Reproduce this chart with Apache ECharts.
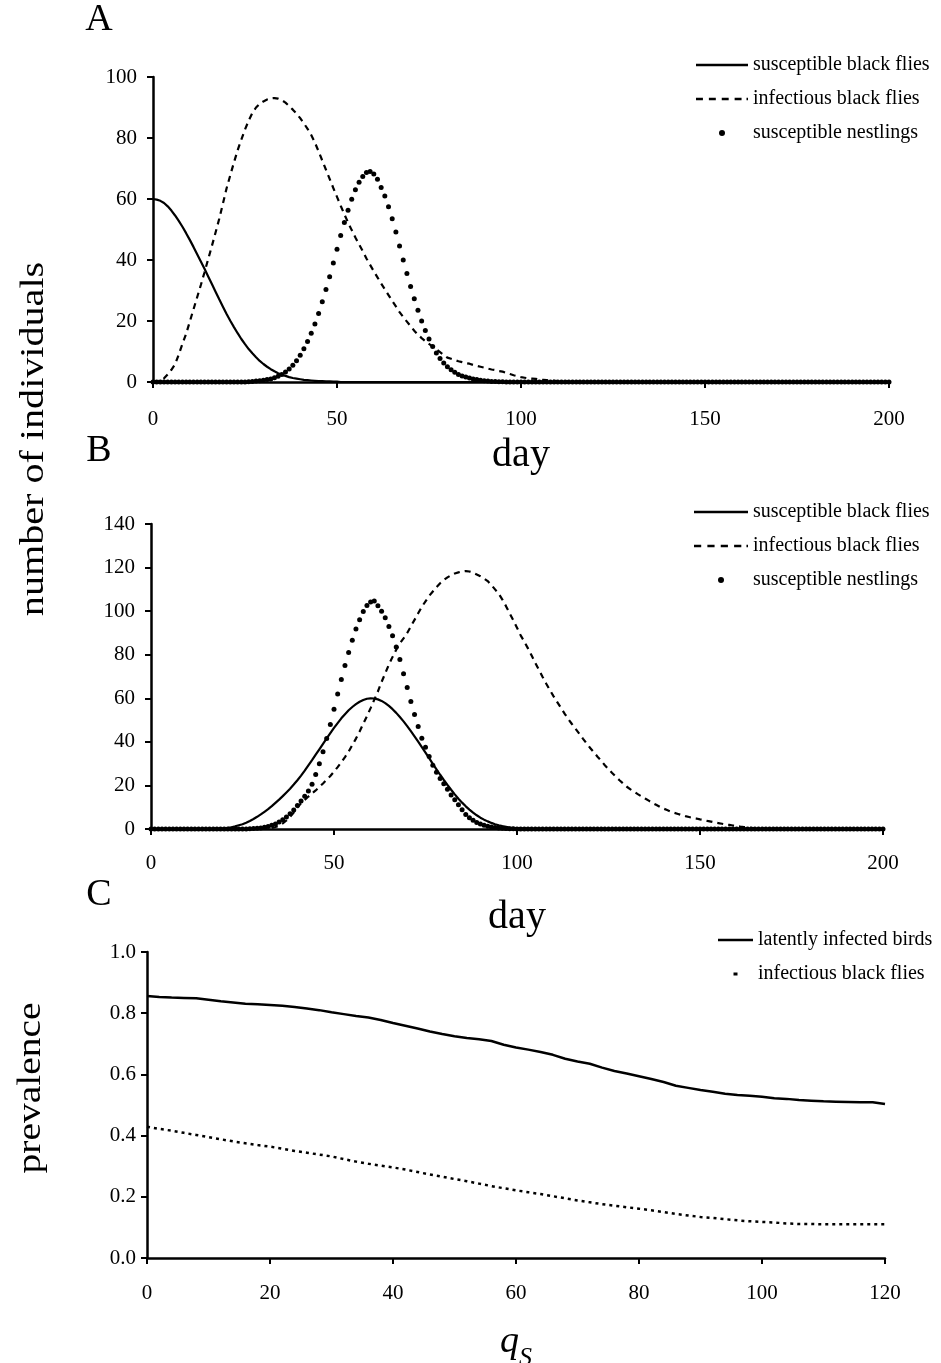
<!DOCTYPE html>
<html>
<head>
<meta charset="utf-8">
<script src="https://cdn.jsdelivr.net/npm/echarts@6/dist/echarts.min.js"></script>
<style>
body { margin: 0; background: #fff; }
#main { width: 941px; height: 1363px; }
</style>
</head>
<body>
<div id="main"></div>
<script>
// ---- panel A : one value per day, index = day (0..200)
var sBlackA = [
  60, 59.8, 59.4, 58.7, 57.6, 56.2, 54.6, 52.8, 50.9, 48.8,
  46.6, 44.3, 41.9, 39.5, 37.1, 34.6, 32.1, 29.6, 27.1, 24.7,
  22.3, 20.1, 18, 16, 14.1, 12.4, 10.8, 9.4, 8.1, 6.9,
  5.9, 5, 4.2, 3.5, 2.9, 2.4, 2, 1.6, 1.3, 1.1,
  0.9, 0.7, 0.6, 0.5, 0.4, 0.3, 0.3, 0.2, 0.2, 0.1,
  0.1, 0, 0, 0, 0, 0, 0, 0, 0, 0,
  0, 0, 0, 0, 0, 0, 0, 0, 0, 0,
  0, 0, 0, 0, 0, 0, 0, 0, 0, 0,
  0, 0, 0, 0, 0, 0, 0, 0, 0, 0,
  0, 0, 0, 0, 0, 0, 0, 0, 0, 0,
  0, 0, 0, 0, 0, 0, 0, 0, 0, 0,
  0, 0, 0, 0, 0, 0, 0, 0, 0, 0,
  0, 0, 0, 0, 0, 0, 0, 0, 0, 0,
  0, 0, 0, 0, 0, 0, 0, 0, 0, 0,
  0, 0, 0, 0, 0, 0, 0, 0, 0, 0,
  0, 0, 0, 0, 0, 0, 0, 0, 0, 0,
  0, 0, 0, 0, 0, 0, 0, 0, 0, 0,
  0, 0, 0, 0, 0, 0, 0, 0, 0, 0,
  0, 0, 0, 0, 0, 0, 0, 0, 0, 0,
  0, 0, 0, 0, 0, 0, 0, 0, 0, 0,
  0
];
var iBlackA = [
  0, 0.2, 0.5, 1.2, 2.5, 4, 5.8, 9, 12.5, 15.8,
  19.8, 23.8, 27.8, 31.8, 36, 40.3, 44.6, 49, 53.5, 58.5,
  63.5, 67.8, 72, 76, 79.5, 82.8, 85.7, 88.2, 90, 91.2,
  92, 92.6, 93, 93.1, 92.9, 92.4, 91.6, 90.5, 89.3, 88,
  86.5, 84.8, 83, 81, 78.5, 75.6, 72.6, 69.6, 66.6, 63.6,
  60.7, 57.8, 55, 52.3, 49.8, 47.4, 45.1, 42.9, 40.5, 38.4,
  36.3, 34.3, 32.3, 30.4, 28.5, 26.6, 24.8, 22.9, 21.3, 19.8,
  18.3, 16.8, 15.5, 14.4, 13.4, 12.5, 11.6, 10.7, 9.8, 8.9,
  8, 7.6, 7.2, 6.8, 6.5, 6.2, 6, 5.6, 5.3, 5,
  4.7, 4.4, 4.1, 3.9, 3.6, 3.4, 3, 2.6, 2.2, 1.9,
  1.6, 1.4, 1.2, 1.1, 1, 0.8, 0.7, 0.6, 0.5, 0.4,
  0.3, 0.3, 0.2, 0.2, 0.1, 0.1, 0, 0, 0, 0,
  0, 0, 0, 0, 0, 0, 0, 0, 0, 0,
  0, 0, 0, 0, 0, 0, 0, 0, 0, 0,
  0, 0, 0, 0, 0, 0, 0, 0, 0, 0,
  0, 0, 0, 0, 0, 0, 0, 0, 0, 0,
  0, 0, 0, 0, 0, 0, 0, 0, 0, 0,
  0, 0, 0, 0, 0, 0, 0, 0, 0, 0,
  0, 0, 0, 0, 0, 0, 0, 0, 0, 0,
  0, 0, 0, 0, 0, 0, 0, 0, 0, 0,
  0
];
var nestA = [
  0, 0, 0, 0, 0, 0, 0, 0, 0, 0,
  0, 0, 0, 0, 0, 0, 0, 0, 0, 0,
  0, 0, 0, 0, 0, 0, 0.1, 0.2, 0.3, 0.4,
  0.6, 0.8, 1, 1.4, 1.9, 2.5, 3.3, 4.3, 5.5, 7,
  8.8, 10.9, 13.3, 16, 19, 22.5, 26.3, 30.3, 34.5, 39,
  43.5, 48, 52.3, 56.3, 59.9, 63, 65.5, 67.4, 68.7, 69,
  68.2, 66.5, 63.8, 61, 57.5, 53.5, 49.2, 44.6, 40, 35.6,
  31.3, 27.3, 23.5, 20, 16.9, 14.1, 11.6, 9.5, 7.7, 6.2,
  5, 4, 3.2, 2.5, 2, 1.6, 1.3, 1, 0.8, 0.6,
  0.4, 0.3, 0.2, 0.2, 0.1, 0.1, 0, 0, 0, 0,
  0, 0, 0, 0, 0, 0, 0, 0, 0, 0,
  0, 0, 0, 0, 0, 0, 0, 0, 0, 0,
  0, 0, 0, 0, 0, 0, 0, 0, 0, 0,
  0, 0, 0, 0, 0, 0, 0, 0, 0, 0,
  0, 0, 0, 0, 0, 0, 0, 0, 0, 0,
  0, 0, 0, 0, 0, 0, 0, 0, 0, 0,
  0, 0, 0, 0, 0, 0, 0, 0, 0, 0,
  0, 0, 0, 0, 0, 0, 0, 0, 0, 0,
  0, 0, 0, 0, 0, 0, 0, 0, 0, 0,
  0, 0, 0, 0, 0, 0, 0, 0, 0, 0,
  0
];

// ---- panel B
var sBlackB = [
  0, 0, 0, 0, 0, 0, 0, 0, 0, 0,
  0, 0, 0, 0, 0, 0, 0, 0.1, 0.1, 0.2,
  0.3, 0.5, 0.8, 1.2, 1.7, 2.2, 2.9, 3.7, 4.6, 5.6,
  6.7, 7.9, 9.1, 10.5, 12, 13.5, 15.1, 16.8, 18.5, 20.4,
  22.4, 24.5, 26.8, 29.2, 31.6, 34.1, 36.6, 39.1, 41.6, 44,
  46.4, 48.6, 50.8, 52.7, 54.5, 56, 57.3, 58.4, 59.2, 59.8,
  60, 59.9, 59.5, 58.8, 57.8, 56.5, 55, 53.3, 51.4, 49.4,
  47.2, 44.9, 42.5, 40.1, 37.6, 35.1, 32.5, 29.9, 27.4, 24.9,
  22.5, 20.2, 18, 15.9, 13.9, 12.1, 10.4, 8.9, 7.5, 6.3,
  5.2, 4.3, 3.5, 2.8, 2.2, 1.7, 1.3, 1, 0.7, 0.5,
  0.4, 0.3, 0.2, 0.1, 0.1, 0, 0, 0, 0, 0,
  0, 0, 0, 0, 0, 0, 0, 0, 0, 0,
  0, 0, 0, 0, 0, 0, 0, 0, 0, 0,
  0, 0, 0, 0, 0, 0, 0, 0, 0, 0,
  0, 0, 0, 0, 0, 0, 0, 0, 0, 0,
  0, 0, 0, 0, 0, 0, 0, 0, 0, 0,
  0, 0, 0, 0, 0, 0, 0, 0, 0, 0,
  0, 0, 0, 0, 0, 0, 0, 0, 0, 0,
  0, 0, 0, 0, 0, 0, 0, 0, 0, 0,
  0, 0, 0, 0, 0, 0, 0, 0, 0, 0,
  0
];
var iBlackB = [
  0, 0, 0, 0, 0, 0, 0, 0, 0, 0,
  0, 0, 0, 0, 0, 0, 0, 0, 0, 0,
  0, 0, 0, 0, 0, 0, 0, 0, 0, 0,
  0.1, 0.2, 0.3, 0.5, 0.9, 1.6, 2.6, 3.9, 5.6, 7.6,
  9.9, 11.8, 13.4, 14.9, 16.3, 17.7, 19.3, 20.9, 22.6, 24.3,
  26.3, 28.4, 30.6, 33, 35.5, 38.5, 41.5, 44.8, 48.3, 51.8,
  55.5, 59.3, 63.2, 67.5, 71.5, 75.5, 79, 82.3, 85.2, 87.5,
  90, 93, 96, 99, 102, 104.5, 107, 109, 111, 112.8,
  114.3, 115.5, 116.5, 117.3, 117.8, 118.2, 118.4, 118.2, 117.6, 116.8,
  116, 115, 113.8, 112, 110, 108, 105.3, 102.3, 99, 95.8,
  92.4, 88.9, 86, 82.9, 79.6, 76.2, 73, 69.8, 66.7, 63.7,
  60.9, 58.2, 55.6, 53, 50.5, 48.2, 46, 43.8, 41.5, 39.3,
  37.2, 35.2, 33.2, 31.3, 29.3, 27.5, 25.7, 24, 22.4, 20.9,
  19.4, 18.2, 17.1, 16, 15, 14, 13, 12, 11.1, 10.2,
  9.4, 8.7, 8, 7.4, 6.9, 6.4, 5.9, 5.5, 5.1, 4.8,
  4.4, 4.1, 3.7, 3.4, 3, 2.7, 2.4, 2.1, 1.9, 1.6,
  1.4, 1.1, 0.9, 0.7, 0.5, 0.4, 0.3, 0.2, 0.1, 0.1,
  0, 0, 0, 0, 0, 0, 0, 0, 0, 0,
  0, 0, 0, 0, 0, 0, 0, 0, 0, 0,
  0, 0, 0, 0, 0, 0, 0, 0, 0, 0,
  0
];
var nestB = [
  0, 0, 0, 0, 0, 0, 0, 0, 0, 0,
  0, 0, 0, 0, 0, 0, 0, 0, 0, 0,
  0, 0, 0, 0, 0, 0, 0, 0.1, 0.2, 0.3,
  0.5, 0.8, 1.2, 1.7, 2.3, 3.2, 4.3, 5.5, 7, 8.7,
  10.8, 12.8, 15, 17.4, 20.5, 25, 30, 35.5, 41.5, 48,
  55, 62, 68.6, 75, 81, 86.6, 91.8, 96, 99.8, 102.6,
  104.2, 104.6, 102.5, 100, 97, 93, 88.7, 83.5, 77.8, 71.3,
  65, 58.5, 52.6, 47, 41.6, 37.5, 33.3, 29.3, 26, 23.2,
  20.8, 18.3, 15.6, 13.4, 11.1, 8.8, 6.7, 5.2, 4, 3,
  2.3, 1.7, 1.3, 0.9, 0.7, 0.5, 0.3, 0.2, 0.1, 0.1,
  0, 0, 0, 0, 0, 0, 0, 0, 0, 0,
  0, 0, 0, 0, 0, 0, 0, 0, 0, 0,
  0, 0, 0, 0, 0, 0, 0, 0, 0, 0,
  0, 0, 0, 0, 0, 0, 0, 0, 0, 0,
  0, 0, 0, 0, 0, 0, 0, 0, 0, 0,
  0, 0, 0, 0, 0, 0, 0, 0, 0, 0,
  0, 0, 0, 0, 0, 0, 0, 0, 0, 0,
  0, 0, 0, 0, 0, 0, 0, 0, 0, 0,
  0, 0, 0, 0, 0, 0, 0, 0, 0, 0,
  0, 0, 0, 0, 0, 0, 0, 0, 0, 0,
  0
];

// ---- panel C : prevalence against q_S
var qS = [
  0, 2, 4, 6, 8, 10, 12, 14, 16, 18,
  20, 22, 24, 26, 28, 30, 32, 34, 36, 38,
  40, 42, 44, 46, 48, 50, 52, 54, 56, 58,
  60, 62, 64, 66, 68, 70, 72, 74, 76, 78,
  80, 82, 84, 86, 88, 90, 92, 94, 96, 98,
  100, 102, 104, 106, 108, 110, 112, 114, 116, 118,
  120
];
var latentC = [
  0.856, 0.853, 0.851, 0.850, 0.849, 0.844, 0.839, 0.835, 0.831, 0.829,
  0.827, 0.824, 0.820, 0.815, 0.810, 0.803, 0.797, 0.791, 0.786, 0.778,
  0.768, 0.759, 0.750, 0.740, 0.732, 0.725, 0.719, 0.715, 0.709, 0.697,
  0.688, 0.681, 0.673, 0.664, 0.651, 0.642, 0.635, 0.622, 0.611, 0.603,
  0.594, 0.585, 0.575, 0.563, 0.556, 0.549, 0.543, 0.537, 0.533, 0.530,
  0.527, 0.522, 0.520, 0.516, 0.514, 0.512, 0.511, 0.510, 0.509, 0.509,
  0.503
];
var infC = [
  0.429, 0.422, 0.416, 0.409, 0.402, 0.395, 0.388, 0.381, 0.375, 0.369,
  0.364, 0.357, 0.350, 0.344, 0.338, 0.332, 0.323, 0.315, 0.308, 0.302,
  0.296, 0.289, 0.281, 0.273, 0.266, 0.258, 0.251, 0.243, 0.235, 0.228,
  0.221, 0.215, 0.209, 0.202, 0.195, 0.188, 0.182, 0.176, 0.171, 0.166,
  0.161, 0.156, 0.150, 0.144, 0.139, 0.134, 0.131, 0.127, 0.123, 0.120,
  0.118, 0.116, 0.113, 0.111, 0.111, 0.110, 0.110, 0.110, 0.110, 0.110,
  0.110
];

var dayTicks = { min: 0, max: 200, interval: 50 };
var legendAB = ['susceptible black flies', 'infectious black flies', 'susceptible nestlings'];
var legendC = ['latently infected birds', 'infectious black flies'];

var FONT = 'Liberation Serif';

// legend keys drawn like the original (plain line / dashes / dot)
var ICON_SOLID = 'path://M0,0h52v2.5h-52z';
var ICON_DASH = 'path://M0,0h7v2.5h-7zM13,0h7v2.5h-7zM26,0h7v2.5h-7zM39,0h7v2.5h-7zM51,0h1.5v2.5h-1.5z';
var ICON_SOLID_C = 'path://M0,0h35v2.5h-35z';
var ICON_DOT_C = 'path://M0,0h4v3h-4z';

function byDay(arr) {            // index is the day
    return arr.map(function (v, i) { return [i, v]; });
}
function byQ(arr) {
    return arr.map(function (v, i) { return [qS[i], v]; });
}

function axisStyle(extra) {
    var a = {
        type: 'value',
        axisLine: { show: true, onZero: false, lineStyle: { color: '#000', width: 2.5 } },
        axisTick: { show: true, length: 6, lineStyle: { color: '#000', width: 2 } },
        axisLabel: { color: '#000', fontSize: 21, fontFamily: FONT },
        splitLine: { show: false }
    };
    for (var k in extra) a[k] = extra[k];
    return a;
}

var legendText = { fontFamily: FONT, fontSize: 20, color: '#000', lineHeight: 22 };
var legendDataAB = [
    { name: legendAB[0], icon: ICON_SOLID },
    { name: legendAB[1], icon: ICON_DASH },
    { name: legendAB[2], icon: 'circle' }
];

option = {
    backgroundColor: '#fff',
    animation: false,
    grid: [   // fixed boxes, axis names may sit outside
        { left: 153, top: 77, width: 736, height: 305, outerBoundsMode: 'none' },   // A
        { left: 151, top: 524, width: 732, height: 305, outerBoundsMode: 'none' },  // B
        { left: 147, top: 952, width: 738, height: 306, outerBoundsMode: 'none' }   // C
    ],
    xAxis: [
        axisStyle({ gridIndex: 0, min: dayTicks.min, max: dayTicks.max, interval: dayTicks.interval,
            name: 'day', nameLocation: 'middle', nameGap: 53,
            nameTextStyle: { fontSize: 40, fontFamily: FONT, color: '#000' } }),
        axisStyle({ gridIndex: 1, min: dayTicks.min, max: dayTicks.max, interval: dayTicks.interval,
            name: 'day', nameLocation: 'middle', nameGap: 68,
            nameTextStyle: { fontSize: 40, fontFamily: FONT, color: '#000' } }),
        axisStyle({ gridIndex: 2, min: 0, max: 120, interval: 20,
            name: '{q|q}{s|S}', nameLocation: 'middle', nameGap: 65,
            nameTextStyle: {
                fontFamily: FONT, color: '#000',
                rich: {
                    q: { fontSize: 38, fontStyle: 'italic', fontFamily: FONT, color: '#000', padding: [0, 0, 10, 0], verticalAlign: 'bottom' },
                    s: { fontSize: 26, fontStyle: 'italic', fontFamily: FONT, color: '#000', verticalAlign: 'bottom' }
                }
            } })
    ],
    yAxis: [
        axisStyle({ gridIndex: 0, min: 0, max: 100, interval: 20 }),
        axisStyle({ gridIndex: 1, min: 0, max: 140, interval: 20 }),
        axisStyle({ gridIndex: 2, min: 0, max: 1, interval: 0.2 })
    ],
    legend: [
        { data: legendDataAB, orient: 'vertical', left: 696, top: 54, padding: 0,
          itemWidth: 52, itemHeight: 6, itemGap: 12, selectedMode: false, textStyle: legendText },
        { data: legendDataAB, orient: 'vertical', left: 694, top: 501, padding: 0,
          itemWidth: 54, itemHeight: 6, itemGap: 12, selectedMode: false, textStyle: legendText },
        { data: [ { name: legendC[0], icon: ICON_SOLID_C }, { name: legendC[1], icon: ICON_DOT_C } ],
          orient: 'vertical', left: 718, top: 929, padding: 0,
          itemWidth: 35, itemHeight: 3, itemGap: 12, selectedMode: false, textStyle: legendText }
    ],
    graphic: [
        { type: 'text', x: 99, y: 20, style: { text: 'A', font: '38px "Liberation Serif"', fill: '#000', align: 'center', verticalAlign: 'middle' } },
        { type: 'text', x: 99, y: 451, style: { text: 'B', font: '38px "Liberation Serif"', fill: '#000', align: 'center', verticalAlign: 'middle' } },
        { type: 'text', x: 99, y: 895, style: { text: 'C', font: '38px "Liberation Serif"', fill: '#000', align: 'center', verticalAlign: 'middle' } },
        // shared y title of A and B, drawn a bit tall like the original
        { type: 'text', x: 34, y: 439, rotation: Math.PI / 2, scaleX: 1.18,
          style: { text: 'number of individuals', font: '34px "Liberation Serif"', fill: '#000', align: 'center', verticalAlign: 'middle' } },
        { type: 'text', x: 31, y: 1088, rotation: Math.PI / 2, scaleX: 1.16,
          style: { text: 'prevalence', font: '34px "Liberation Serif"', fill: '#000', align: 'center', verticalAlign: 'middle' } }
    ],
    series: [
        // A
        { name: legendAB[0], type: 'line', xAxisIndex: 0, yAxisIndex: 0, data: byDay(sBlackA),
          symbol: 'none', color: '#000', lineStyle: { color: '#000', width: 2.2 } },
        { name: legendAB[1], type: 'line', xAxisIndex: 0, yAxisIndex: 0, data: byDay(iBlackA),
          symbol: 'none', color: '#000', lineStyle: { color: '#000', width: 2.2, type: [6, 5] } },
        { name: legendAB[2], type: 'scatter', xAxisIndex: 0, yAxisIndex: 0, data: byDay(nestA),
          symbol: 'circle', symbolSize: 5, itemStyle: { color: '#000', opacity: 1 } },
        // B
        { name: legendAB[0], type: 'line', xAxisIndex: 1, yAxisIndex: 1, data: byDay(sBlackB),
          symbol: 'none', color: '#000', lineStyle: { color: '#000', width: 2.2 } },
        { name: legendAB[1], type: 'line', xAxisIndex: 1, yAxisIndex: 1, data: byDay(iBlackB),
          symbol: 'none', color: '#000', lineStyle: { color: '#000', width: 2.2, type: [6, 5] } },
        { name: legendAB[2], type: 'scatter', xAxisIndex: 1, yAxisIndex: 1, data: byDay(nestB),
          symbol: 'circle', symbolSize: 5, itemStyle: { color: '#000', opacity: 1 } },
        // C
        { name: legendC[0], type: 'line', xAxisIndex: 2, yAxisIndex: 2, data: byQ(latentC),
          symbol: 'none', color: '#000', lineStyle: { color: '#000', width: 2.5 } },
        { name: legendC[1], type: 'line', xAxisIndex: 2, yAxisIndex: 2, data: byQ(infC),
          symbol: 'none', color: '#000', lineStyle: { color: '#000', width: 2.5, type: [3, 4] } }
    ]
};

// y labels of C keep one decimal
option.yAxis[2].axisLabel = { color: '#000', fontSize: 21, fontFamily: FONT, margin: 11,
    formatter: function (v) { return v.toFixed(1); } };
option.yAxis[0].axisLabel.margin = 16;
option.yAxis[1].axisLabel.margin = 16;
option.xAxis[0].axisLabel.margin = 27;
option.xAxis[1].axisLabel.margin = 24;
option.xAxis[2].axisLabel.margin = 25;

var mychart = echarts.init(document.getElementById('main'));
mychart.setOption(option);
</script>
</body>
</html>
